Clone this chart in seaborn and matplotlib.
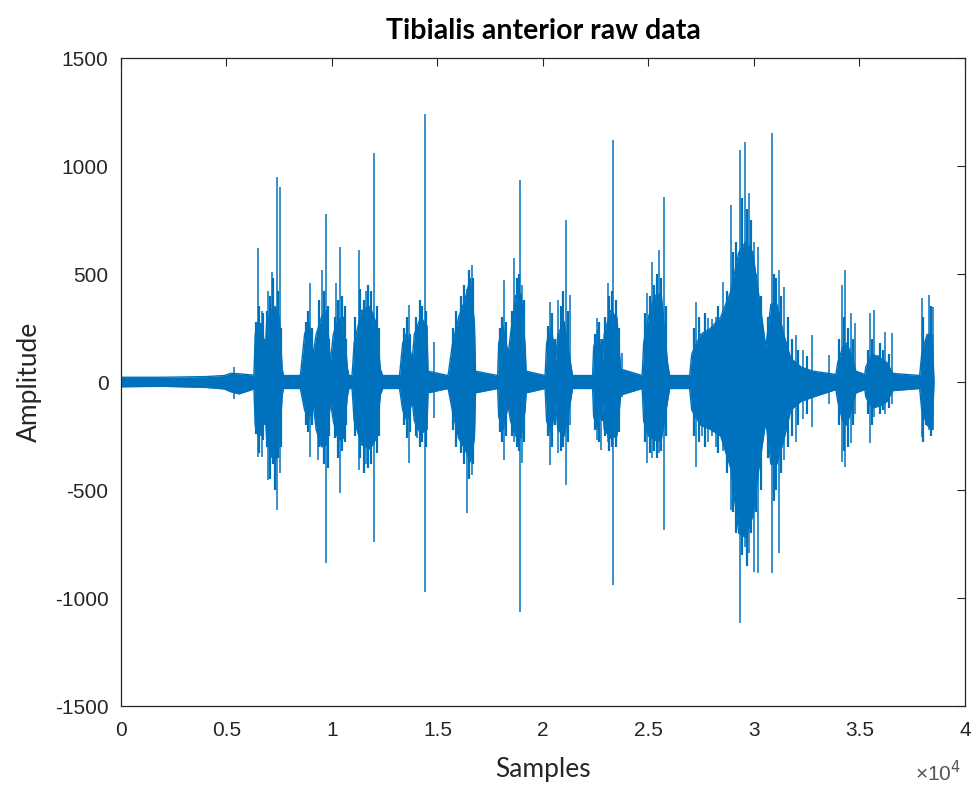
import numpy as np
import pandas as pd
import matplotlib
matplotlib.use("Agg")
import matplotlib.pyplot as plt
import seaborn as sns

# ---------------- data ----------------
title = "Tibialis anterior raw data"
x_label = "Samples"
y_label = "Amplitude"
x_ticks = [0, 5000, 10000, 15000, 20000, 25000, 30000, 35000, 40000]
x_tick_labels = ["0", "0.5", "1", "1.5", "2", "2.5", "3", "3.5", "4"]
y_ticks = [-1500, -1000, -500, 0, 500, 1000, 1500]
y_tick_labels = ["-1500", "-1000", "-500", "0", "500", "1000", "1500"]

# dense core of the signal (envelope): sample, upper, lower
env_x = [0, 2000, 4000, 4900, 5200, 5600, 6300,
         6360, 6500, 6700, 6830, 6900, 7100, 7300, 7500, 7640,
         7700, 8500, 8700, 8900, 9100, 9250, 9500, 9750, 9920,
         10060, 10300, 10550, 10720, 10800, 10950, 11050, 11400, 11800, 12100, 12290,
         12400, 13200, 13350, 13550, 13800, 13900, 14200, 14500, 14550,
         15500, 15700, 16000, 16300, 16550, 16750, 16800,
         17850, 17900, 18100, 18350, 18460, 18700, 18950, 19150, 19200,
         20100, 20170, 20400, 20590, 20700, 21000, 21300, 21400,
         22350, 22400, 22600, 22820, 22900, 23200, 23500, 23680,
         24700, 24770, 25000, 25300, 25600, 25900, 26000,
         26950, 27050, 27470, 27950, 28420, 28900, 29280, 29610, 29940, 30230,
         30560, 30800, 31080, 31410, 31740, 32220, 32790,
         33880, 33970, 34200, 34400, 34600, 34830,
         35250, 35300, 35600, 36000, 36300, 36580,
         37850, 37950, 38200, 38450, 38530]
env_hi = [22, 22, 25, 30, 40, 38, 32,
          220, 280, 260, 130, 270, 330, 350, 300, 60,
          30, 30, 220, 280, 130, 220, 300, 330, 90,
          220, 290, 300, 70, 30, 30, 180, 330, 350, 270, 60,
          30, 30, 180, 230, 100, 220, 300, 260, 50,
          30, 170, 300, 380, 480, 270, 50,
          30, 180, 260, 130, 220, 400, 410, 170, 50,
          30, 180, 260, 90, 220, 280, 90, 30,
          30, 160, 240, 90, 220, 330, 300, 60,
          30, 180, 300, 400, 410, 90, 30,
          30, 130, 220, 250, 300, 420, 600, 650, 600, 400,
          160, 360, 360, 220, 110, 70, 50,
          35, 90, 160, 180, 130, 50,
          35, 70, 130, 110, 90, 40,
          30, 130, 220, 220, 0]
env_lo = [-22, -20, -25, -32, -45, -55, -32,
          -200, -250, -240, -130, -260, -340, -370, -290, -60,
          -30, -30, -130, -170, -100, -220, -300, -290, -90,
          -180, -270, -260, -70, -30, -30, -180, -290, -310, -260, -60,
          -30, -30, -130, -180, -90, -180, -240, -220, -50,
          -30, -130, -260, -310, -370, -260, -50,
          -30, -160, -220, -110, -180, -250, -260, -130, -50,
          -30, -180, -240, -90, -220, -250, -90, -30,
          -30, -160, -220, -90, -220, -260, -250, -60,
          -30, -180, -250, -270, -270, -90, -30,
          -30, -130, -200, -220, -250, -400, -700, -720, -620, -400,
          -180, -380, -380, -270, -130, -90, -70,
          -35, -90, -180, -200, -130, -50,
          -35, -70, -120, -110, -90, -40,
          -30, -130, -200, -220, 0]

# individual tall spikes: sample, peak, trough
spike_x = [5350, 6490, 6660, 6990, 7150, 7390, 7545,
           8970, 9320, 9520, 9710, 10200, 10390,
           11260, 11600, 12010, 13630, 14030, 14390, 14820,
           16400, 16640, 18140, 18610, 18900, 19000,
           20320, 20720, 21100, 21270, 22540, 22730, 23080, 23330, 23730,
           24910, 25180, 25500, 25730,
           27270, 27550, 27840, 28030, 28180, 28530, 28900, 29320, 29560, 29740,
           30000, 30210, 30870, 31190, 31430, 31980, 32300, 32770,
           33560, 34190, 34310, 34590, 34800,
           35510, 35700, 35860, 36200, 36540,
           37940, 38300, 38470]
spike_hi = [70, 619, 330, 420, 510, 950, 904,
            457, 240, 518, 780, 457, 626,
            611, 420, 1058, 356, 260, 1243, 187,
            430, 540, 472, 572, 935, 450,
            372, 380, 750, 403, 295, 200, 457, 1120, 133,
            410, 557, 611, 855,
            372, 164, 295, 290, 300, 464, 819, 1074, 1113, 873,
            650, 626, 1151, 518, 441, 218, 150, 218,
            125, 449, 518, 318, 272,
            318, 333, 125, 233, 225,
            387, 403, 349]
spike_lo = [-80, -345, -345, -454, -300, -592, -420,
            -345, -361, -300, -840, -250, -515,
            -407, -380, -739, -376, -260, -970, -168,
            -608, -430, -361, -280, -1063, -376,
            -384, -330, -477, -200, -268, -315, -280, -940, -70,
            -376, -350, -330, -685,
            -392, -250, -280, -250, -300, -320, -592, -1117, -762, -793,
            -878, -885, -885, -793, -360, -280, -170, -210,
            -100, -369, -392, -284, -150,
            -284, -160, -100, -150, -100,
            -253, -222, -222]

# fringe spikes that make the ragged edge of each burst: sample, peak, trough
fringe_x = [6420, 6540, 6720, 6800,
            6920, 7050, 7220, 7300, 7450, 7600,
            8750, 8850, 9050,
            9400, 9600, 9800, 9880,
            10120, 10300, 10480, 10600, 10680,
            11100, 11350, 11500, 11700, 11850, 12150, 12230,
            13400, 13550, 13720,
            13980, 14150, 14280, 14460,
            15750, 15900, 16100, 16250, 16500, 16700,
            17950, 18050, 18250,
            18520, 18750, 18850, 19080,
            20220, 20450, 20550,
            20850, 20950, 21200,
            22450, 22650, 22780,
            22950, 23150, 23250, 23450, 23600,
            24850, 25050, 25250, 25400, 25600, 25820,
            27150, 27400, 27700, 28300, 28700, 29000, 29150, 29450, 29650, 29850,
            30100, 30350, 30650, 30950, 31050, 31300, 31600, 31800, 32100, 32500,
            34050, 34250, 34450, 34700,
            35400, 35600, 35950, 36100, 36400,
            38000, 38150, 38380]
fringe_hi = [280, 350, 320, 200,
             330, 400, 480, 300, 420, 250,
             280, 330, 250,
             380, 420, 350, 200,
             300, 380, 400, 350, 200,
             300, 430, 380, 450, 420, 350, 250,
             250, 300, 220,
             300, 380, 350, 330,
             250, 330, 400, 450, 520, 480,
             250, 300, 280,
             330, 480, 500, 380,
             260, 320, 200,
             350, 420, 330,
             220, 280, 200,
             300, 400, 420, 380, 250,
             320, 400, 450, 500, 480, 350,
             250, 300, 320, 350, 420, 600, 650, 850, 800, 750,
             500, 400, 300, 500, 480, 400, 300, 200, 150, 120,
             200, 300, 250, 200,
             150, 200, 180, 150, 130,
             300, 200, 350]
fringe_lo = [-240, -330, -270, -200,
             -300, -450, -380, -500, -350, -300,
             -200, -230, -200,
             -300, -380, -400, -250,
             -260, -350, -320, -280, -200,
             -250, -350, -420, -400, -380, -330, -250,
             -200, -260, -230,
             -250, -300, -280, -300,
             -220, -300, -330, -380, -450, -380,
             -230, -280, -250,
             -250, -300, -320, -280,
             -250, -300, -200,
             -320, -300, -280,
             -220, -280, -180,
             -250, -320, -300, -300, -230,
             -280, -330, -320, -350, -320, -250,
             -250, -280, -300, -330, -420, -600, -700, -800, -850, -700,
             -600, -500, -350, -550, -500, -420, -300, -250, -200, -150,
             -200, -320, -300, -200,
             -150, -200, -150, -130, -120,
             -280, -200, -250]

# ---------------- drawing ----------------
sns.set_theme(style="white")
plt.rcParams["font.family"] = ["Liberation Sans", "DejaVu Sans"]

blue = "#0072BD"
fig = plt.figure(figsize=(9.78, 7.85), dpi=100)
ax = fig.add_axes([121 / 978, 1 - 706 / 785, (965 - 121) / 978, (706 - 58) / 785])

env = pd.DataFrame({"x": env_x, "hi": env_hi, "lo": env_lo})
edges = pd.concat([
    pd.DataFrame({"Samples": env["x"], "Amplitude": env["hi"], "edge": "upper"}),
    pd.DataFrame({"Samples": env["x"], "Amplitude": env["lo"], "edge": "lower"}),
])
ax.fill_between(env["x"], env["lo"], env["hi"], color=blue, linewidth=0)
sns.lineplot(data=edges, x="Samples", y="Amplitude", units="edge", estimator=None,
             sort=False, color=blue, linewidth=1.0, ax=ax, legend=False)
ax.vlines(fringe_x, fringe_lo, fringe_hi, color=blue, linewidth=1.6)
ax.vlines(spike_x, spike_lo, spike_hi, color=blue, linewidth=1.1)

ax.set_xlim(0, 40000)
ax.set_ylim(-1500, 1500)
ax.set_xticks(x_ticks)
ax.set_xticklabels(x_tick_labels)
ax.set_yticks(y_ticks)
ax.set_yticklabels(y_tick_labels)
ax.tick_params(direction="in", length=6, width=0.8, top=True, right=True,
               labelsize=15, colors="#262626")
ax.tick_params(axis="x", pad=11)
ax.tick_params(axis="y", pad=9)
for s in ax.spines.values():
    s.set_color("#262626")
    s.set_linewidth(0.9)
ax.grid(False)

ax.set_xlabel(x_label, fontsize=19, family=["Lato", "DejaVu Sans"], color="#262626", labelpad=12)
ax.set_ylabel(y_label, fontsize=19, family=["Lato", "DejaVu Sans"], color="#262626", labelpad=9)
ax.set_title(title, fontsize=20.5, fontweight="bold", family=["Lato", "DejaVu Sans"],
             color="#000000", pad=14)
fig.text(938 / 978, 1 - 773 / 785, "×10$^4$", fontsize=15, color="#555555",
         ha="center", va="center")

fig.savefig("out.png", dpi=100)
